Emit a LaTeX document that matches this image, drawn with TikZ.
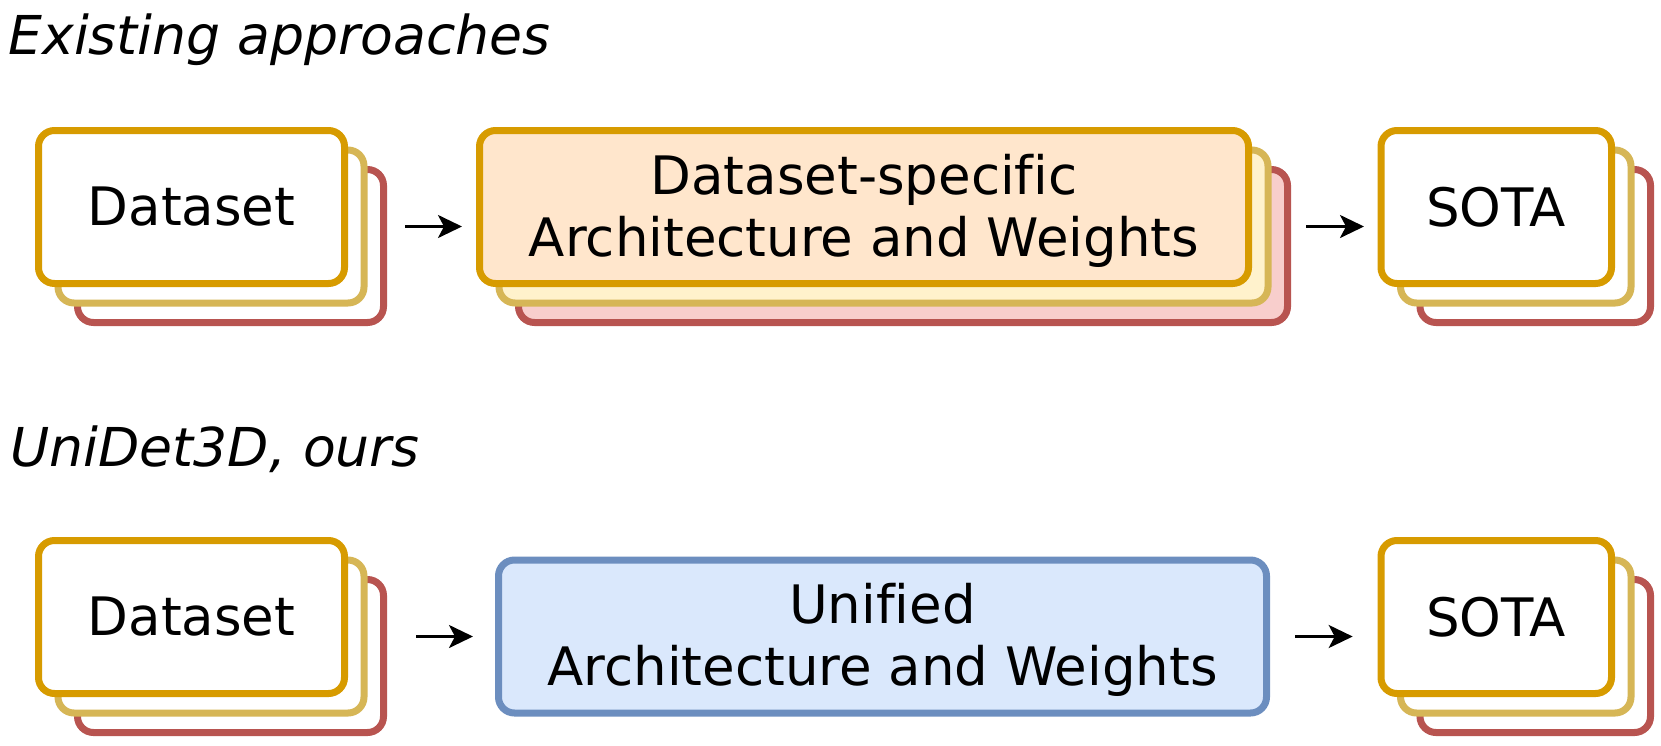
\documentclass[tikz,border=0pt]{standalone}
\usepackage{fontspec}
\setmainfont{DejaVu Sans}[Ligatures=NoCommon]
\usetikzlibrary{arrows.meta}
\definecolor{dsorange}{HTML}{D79B00}
\definecolor{dsyellow}{HTML}{D6B656}
\definecolor{dsred}{HTML}{B85450}
\definecolor{dsblue}{HTML}{6C8EBF}
\definecolor{fillorange}{HTML}{FFE6CC}
\definecolor{fillyellow}{HTML}{FFF2CC}
\definecolor{fillred}{HTML}{F8CECC}
\definecolor{fillblue}{HTML}{DAE8FC}

\begin{document}
\begin{tikzpicture}[x=0.5pt,y=-0.5pt]
\tikzset{
  card/.style={draw, line width=3.5pt, rounded corners=8pt, outer sep=0pt, inner sep=0pt,
    align=center, minimum height=76.5pt, font=\fontsize{26.5}{31}\selectfont},
  dsbox/.style={card, minimum width=153pt},
  sotabox/.style={card, minimum width=115.25pt},
  archbox/.style={card, minimum width=384.5pt},
  lay1/.style={draw=dsorange},
  lay2/.style={draw=dsyellow},
  lay3/.style={draw=dsred},
  flow/.style={-{Stealth[length=12pt,width=11.5pt,inset=3pt]}, line width=1.4pt},
  title/.style={anchor=base west, inner sep=0pt, font=\fontsize{26.8}{31}\selectfont\itshape}
}
\useasboundingbox (0,0) rectangle (1661,745);

\node[title] (headA) at (8,54) {Existing approaches};
\node[title] (headB) at (10,466) {UniDet3D, ours};

% existing approaches
\node[dsbox,lay3,fill=white] (dsA3) at (230.5,246) {};
\node[dsbox,lay2,fill=white] (dsA2) at (211,226.5) {};
\node[dsbox,lay1,fill=white] (dsA) at (191.5,207) {Dataset};

\node[archbox,lay3,fill=fillred] (archA3) at (903,246) {};
\node[archbox,lay2,fill=fillyellow] (archA2) at (883.5,226.5) {};
\node[archbox,lay1,fill=fillorange] (archA) at (864,207) {\rule{0pt}{24pt}Dataset-specific\\Architecture and Weights};

\node[sotabox,lay3,fill=white] (sotaA3) at (1535.25,246) {};
\node[sotabox,lay2,fill=white] (sotaA2) at (1515.75,226.5) {};
\node[sotabox,lay1,fill=white] (sotaA) at (1496.25,207) {SOTA};

\draw[flow, shorten <=10.75pt, shorten >=8.75pt] (dsA3.east |- dsA2) -- (archA.west |- dsA2);
\draw[flow, shorten <=9.25pt, shorten >=8.5pt] (archA3.east |- archA2) -- (sotaA.west |- archA2);

% ours
\node[dsbox,lay3,fill=white] (dsB3) at (230.5,656) {};
\node[dsbox,lay2,fill=white] (dsB2) at (211,636.5) {};
\node[dsbox,lay1,fill=white] (dsB) at (191.5,617) {Dataset};

\node[archbox,draw=dsblue,fill=fillblue,minimum width=384pt] (unified) at (882.5,636.5) {\rule{0pt}{24pt}Unified\\Architecture and Weights};

\node[sotabox,lay3,fill=white] (sotaB3) at (1535.25,656) {};
\node[sotabox,lay2,fill=white] (sotaB2) at (1515.75,636.5) {};
\node[sotabox,lay1,fill=white] (sotaB) at (1496.25,617) {SOTA};

\draw[flow, shorten <=16.25pt, shorten >=12.75pt] (dsB3.east |- unified) -- (unified.west);
\draw[flow, shorten <=14.25pt, shorten >=14.15pt] (unified.east) -- (sotaB.west |- unified);
\end{tikzpicture}
\end{document}
